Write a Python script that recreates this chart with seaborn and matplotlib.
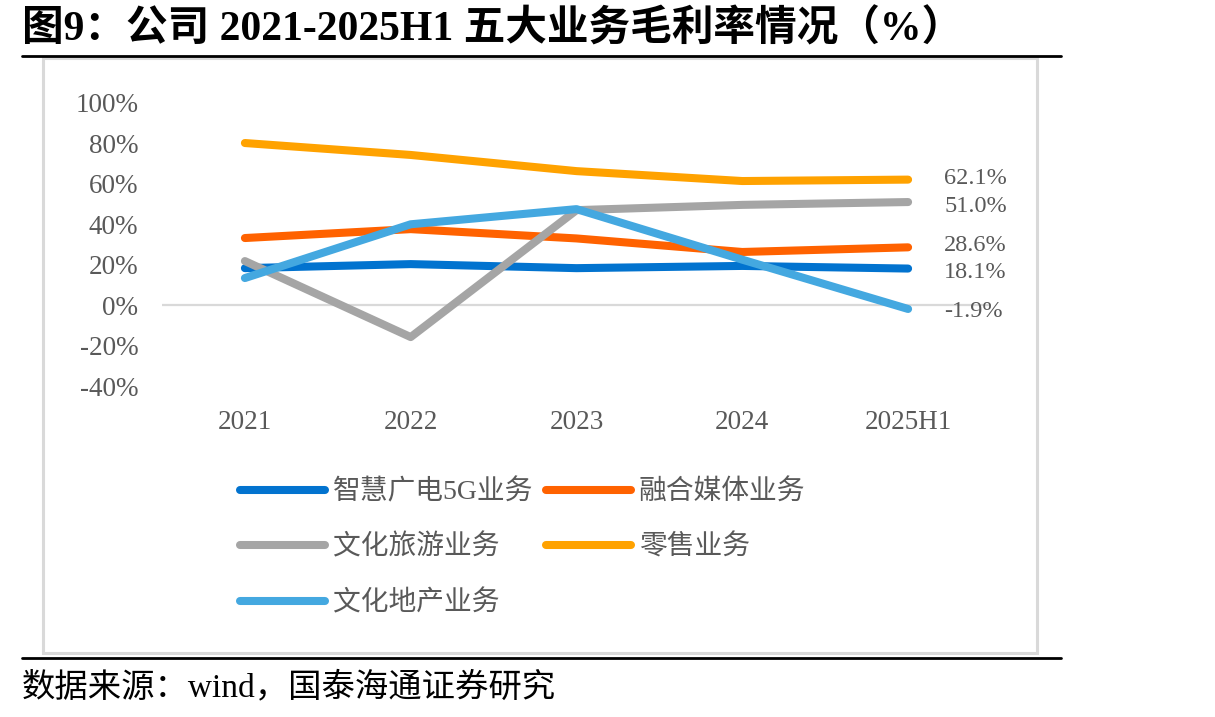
import pandas as pd
import matplotlib
matplotlib.use('Agg')
import matplotlib.pyplot as plt
from matplotlib.patches import Rectangle
from matplotlib.lines import Line2D
import seaborn as sns

# 数据
years = ['2021', '2022', '2023', '2024', '2025H1']
series_names = ['智慧广电5G业务', '融合媒体业务', '文化旅游业务', '零售业务', '文化地产业务']
smart_5g = [18.3, 20.3, 18.3, 19.4, 18.1]
media = [33.2, 37.6, 33.0, 26.3, 28.6]
tourism = [21.8, -15.8, 47.0, 49.6, 51.0]
retail = [80.2, 74.3, 66.3, 61.4, 62.1]
estate = [13.4, 40.0, 47.5, 22.5, -1.9]
end_labels = ['18.1%', '28.6%', '51.0%', '62.1%', '-1.9%']
colors = ['#0273CF', '#FF6200', '#A5A5A5', '#FFA200', '#44A8E0']

values = [smart_5g, media, tourism, retail, estate]
df = pd.DataFrame({
    'year': years * len(series_names),
    'serie': [n for n in series_names for _ in years],
    'valor': [v for vals in values for v in vals],
})

sns.set_style('white')
fam = ['Liberation Serif', 'Noto Sans CJK SC']
plt.rcParams['font.family'] = fam
gray_txt = '#595959'

fig = plt.figure(figsize=(12.15, 7.17), dpi=100)
ax = fig.add_axes([162 / 1215, 1 - 386 / 717, (991 - 162) / 1215, (386 - 103) / 717])

ax.axhline(0, color='#D9D9D9', lw=1.6, zorder=0)
sns.lineplot(data=df, x='year', y='valor', hue='serie', hue_order=series_names,
             palette=colors, sort=False, linewidth=5.8, solid_capstyle='round',
             ax=ax, legend=False)

ax.set_xlim(-0.5, 4.5)
ax.set_ylim(-40, 100)
ax.set_yticks(range(-40, 101, 20))
ax.set_yticklabels([f'{t}%' for t in range(-40, 101, 20)])
ax.set_xlabel('')
ax.set_ylabel('')
ax.tick_params(axis='both', length=0, labelsize=19.5, labelcolor=gray_txt)
ax.tick_params(axis='y', pad=17)
ax.tick_params(axis='x', pad=17)
for s in ax.spines.values():
    s.set_visible(False)
ax.patch.set_alpha(0)

# Etiquetas al final de cada serie (pequeño desplazamiento vertical para que no se pisen)
label_shift = [-2.6, 1.4, -2.9, 0.6, -1.6]
for vals, lab, dy in zip(values, end_labels, label_shift):
    ax.annotate(lab, xy=(4, vals[-1]), xytext=(26, dy), textcoords='offset points',
                ha='left', va='center', fontsize=17.5, color=gray_txt, clip_on=False)

# Leyenda en orden por filas
handles = [Line2D([], [], color=c, lw=5.8, solid_capstyle='round') for c in colors]
order = [0, 2, 4, 1, 3]
fig.legend([handles[i] for i in order], [series_names[i] for i in order],
           loc='upper left', bbox_to_anchor=(240 / 1215, 1 - 479 / 717),
           ncol=2, frameon=False, fontsize=20, labelcolor=gray_txt,
           handlelength=3.05, handletextpad=0.3, columnspacing=0.45,
           labelspacing=1.05, borderpad=0, borderaxespad=0)

# Marco del gráfico
fig.patches.append(Rectangle((43 / 1215, 1 - 653 / 717), (1037 - 43) / 1215, (653 - 58) / 717,
                             transform=fig.transFigure, fill=False, edgecolor='#D9D9D9',
                             lw=2.2, zorder=0))

# Líneas negras de título y fuente
for y in [1 - 55.5 / 717, 1 - 658 / 717]:
    fig.add_artist(Line2D([22 / 1215, 1061 / 1215], [y, y], transform=fig.transFigure,
                          color='black', lw=2.0))

fig.text(22 / 1215, 1 - 29 / 717, '图9：公司 2021-2025H1 五大业务毛利率情况（%）',
         ha='left', va='center', fontsize=30, fontweight='bold', color='black')
fig.text(22 / 1215, 1 - 687 / 717, '数据来源：wind，国泰海通证券研究',
         ha='left', va='center', fontsize=24, color='black')

fig.savefig('out.png', dpi=100)
